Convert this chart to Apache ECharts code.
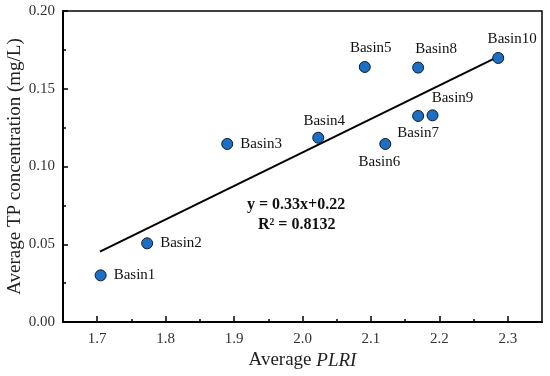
<!DOCTYPE html>
<html><head><meta charset="utf-8">
<script src="https://cdn.jsdelivr.net/npm/echarts@6/dist/echarts.min.js"></script>
<style>html,body{margin:0;padding:0;background:#fff}#c{width:550px;height:376px}</style>
</head><body><div id="c"></div>
<script>
var basinNames = ['Basin1','Basin2','Basin3','Basin4','Basin5','Basin6','Basin7','Basin8','Basin9','Basin10'];
var plri = [1.705, 1.773, 1.890, 2.023, 2.091, 2.121, 2.169, 2.169, 2.190, 2.286];
var tp = [0.030, 0.0506, 0.1145, 0.1185, 0.164, 0.1145, 0.1325, 0.1636, 0.1329, 0.1698];
var fitX = [1.704, 2.286];
var fitY = [0.0452, 0.1706];
var xTickLabels = [1.7, 1.8, 1.9, 2.0, 2.1, 2.2, 2.3];
var xMinorTicks = [1.75, 1.85, 1.95, 2.05, 2.15, 2.25];
var eqLine1 = 'y = 0.33x+0.22';
var eqLine2 = 'R² = 0.8132';

var labelPos = {
  Basin1: {position: 'right', distance: 7},
  Basin2: {position: 'right', distance: 7},
  Basin3: {position: 'right', distance: 7},
  Basin4: {position: 'top', distance: 3, offset: [6, 0]},
  Basin5: {position: 'top', distance: 5, offset: [6, 0]},
  Basin6: {position: 'bottom', distance: 5, offset: [-6, 0]},
  Basin7: {position: 'bottom', distance: 4, offset: [0, 0]},
  Basin8: {position: 'top', distance: 5, offset: [18, 0]},
  Basin9: {position: 'top', distance: 4, offset: [20, 0]},
  Basin10: {position: 'top', distance: 5, offset: [14, 0]}
};

var FONT = '"Liberation Serif", "Times New Roman", serif';
var pts = basinNames.map(function (n, i) {
  var lp = labelPos[n];
  return {name: n, value: [plri[i], tp[i]], label: Object.assign({show: true}, lp)};
});

var chart = echarts.init(document.getElementById('c'), null, {renderer: 'canvas'});
chart.setOption({
  animation: false,
  backgroundColor: '#fff',
  grid: {left: 63, right: 8, top: 11, bottom: 54, show: true, borderColor: '#000', borderWidth: 1.5, containLabel: false, outerBoundsMode: 'none'},
  xAxis: [{
    type: 'value', min: 1.65, max: 2.35,
    name: '{n|Average }{i|PLRI}', nameLocation: 'middle', nameGap: 29, nameMoveOverlap: false,
    nameTextStyle: {rich: {n: {fontFamily: FONT, fontSize: 19, color: '#222'}, i: {fontFamily: FONT, fontSize: 19, fontStyle: 'italic', color: '#222'}}},
    axisLine: {show: true, lineStyle: {color: '#000', width: 2}},
    axisTick: {show: true, inside: true, length: 6, lineStyle: {color: '#000', width: 1.5}, customValues: xTickLabels},
    axisLabel: {customValues: xTickLabels, color: '#333', fontFamily: FONT, fontSize: 15, margin: 10, formatter: function (v) { return v.toFixed(1); }},
    splitLine: {show: false}
  }, {
    type: 'value', min: 1.65, max: 2.35, position: 'bottom',
    axisLine: {show: false},
    axisTick: {show: true, inside: true, length: 3, lineStyle: {color: '#000', width: 1.5}, customValues: xMinorTicks},
    axisLabel: {show: false},
    splitLine: {show: false}
  }],
  yAxis: {
    type: 'value', min: 0, max: 0.2, interval: 0.05,
    name: 'Average TP concentration (mg/L)', nameLocation: 'middle', nameGap: 38, nameMoveOverlap: false,
    nameTextStyle: {fontFamily: FONT, fontSize: 19, color: '#222'},
    axisLine: {show: true, lineStyle: {color: '#000', width: 2}},
    axisTick: {show: true, inside: true, length: 5, lineStyle: {color: '#000', width: 1.5}},
    minorTick: {show: true, splitNumber: 2, length: 3, lineStyle: {color: '#000', width: 1.5}},
    axisLabel: {color: '#333', fontFamily: FONT, fontSize: 15, margin: 8, formatter: function (v) { return v.toFixed(2); }},
    splitLine: {show: false}, minorSplitLine: {show: false}
  },
  graphic: [
    {type: 'text', left: 247, top: 197, style: {text: eqLine1, font: 'bold 16px ' + FONT, fill: '#111'}},
    {type: 'text', left: 258, top: 217, style: {text: eqLine2, font: 'bold 16px ' + FONT, fill: '#111'}}
  ],
  series: [{
    type: 'line', xAxisIndex: 0, data: fitX.map(function (x, i) { return [x, fitY[i]]; }),
    symbol: 'none', lineStyle: {color: '#000', width: 2}, z: 2
  }, {
    type: 'scatter', xAxisIndex: 0, data: pts, symbolSize: 11,
    itemStyle: {color: '#1c6fc2', borderColor: '#0a1a33', borderWidth: 1, opacity: 1},
    label: {fontFamily: FONT, fontSize: 15, color: '#111', formatter: '{b}'},
    z: 3
  }]
});
</script></body></html>
